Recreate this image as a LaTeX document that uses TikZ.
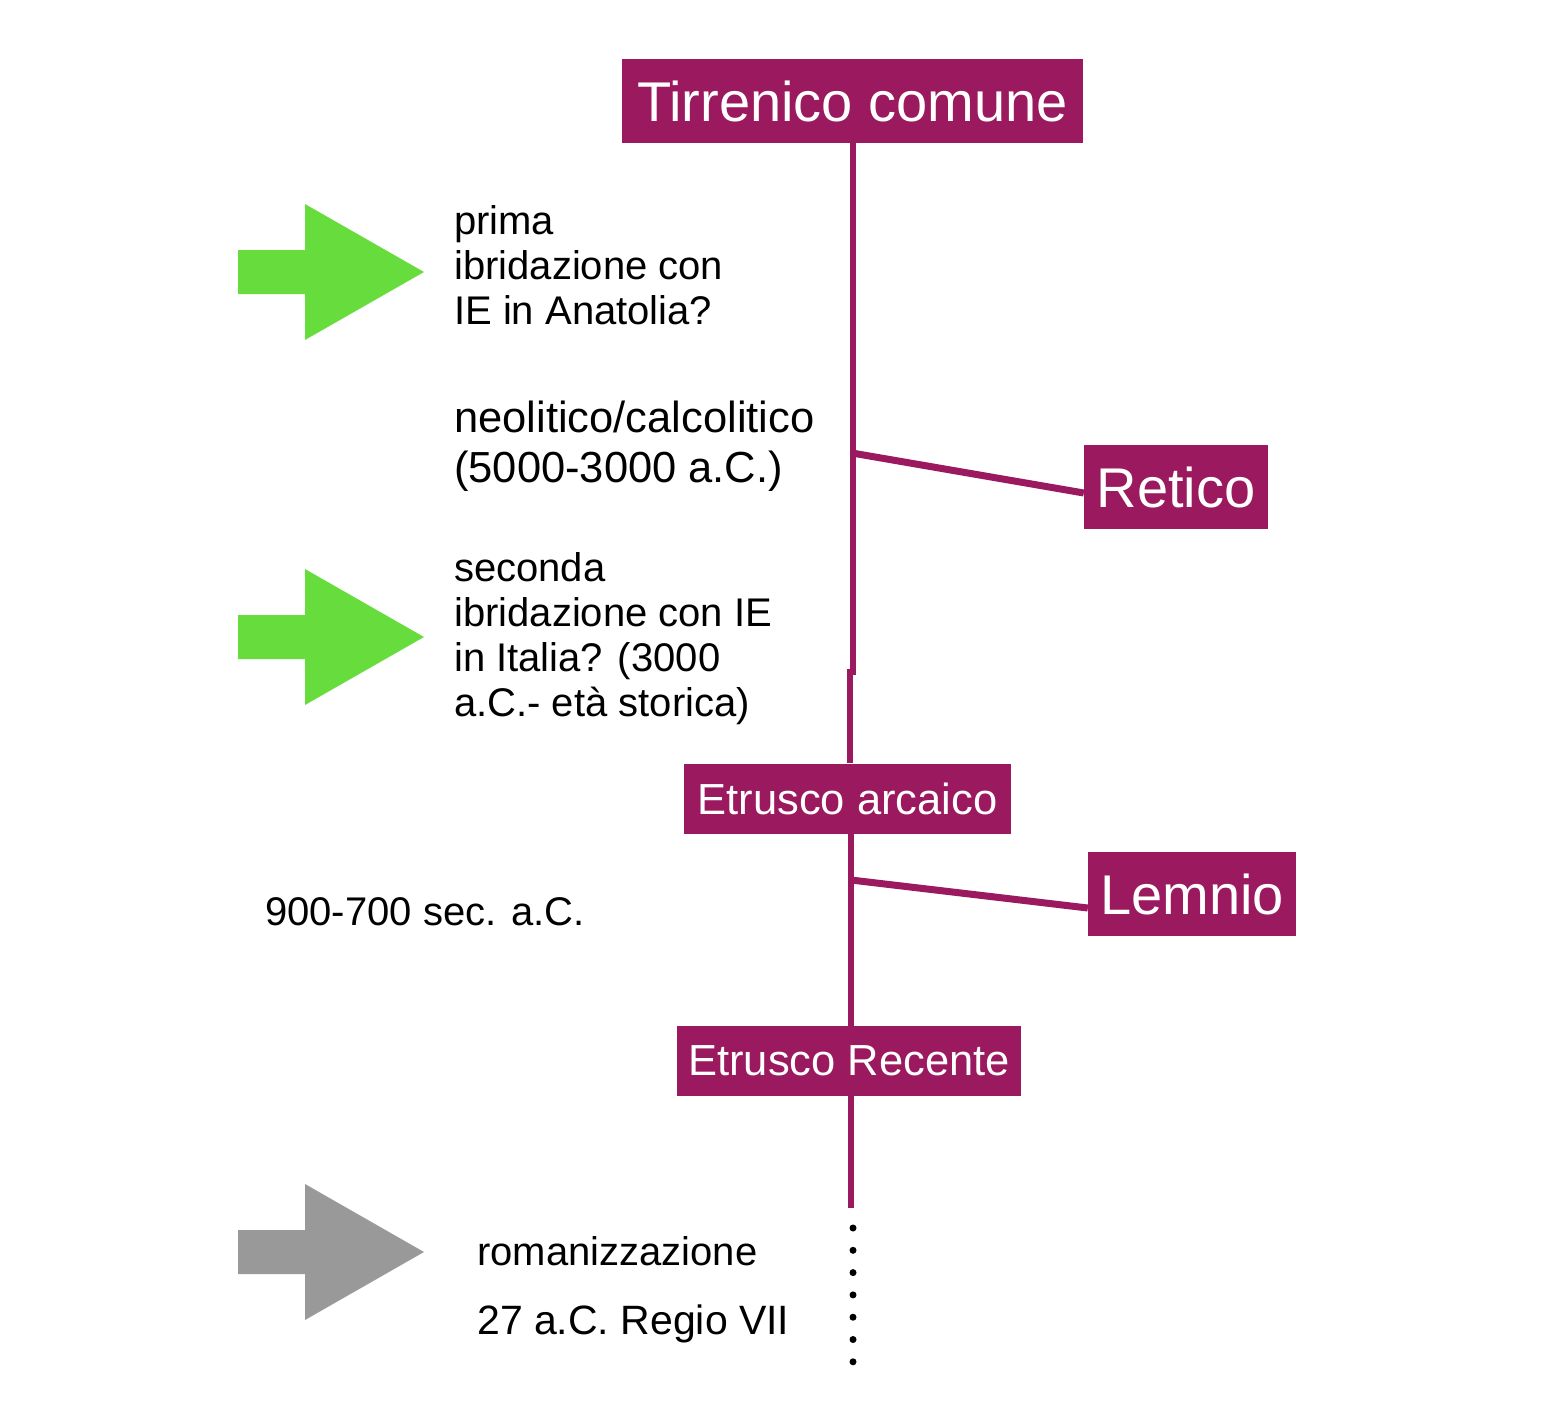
\documentclass[tikz,border=0pt]{standalone}
\usepackage{xcolor}
\usepackage{fontspec}
\setmainfont{Liberation Sans}
\usepackage{tikz}
\definecolor{tyrrh}{RGB}{155,25,94}
\definecolor{hybrid}{RGB}{102,221,60}
\definecolor{roman}{RGB}{153,153,153}

\begin{document}
\begin{tikzpicture}[x=1pt,y=-1pt,
    lang node/.style={fill=tyrrh,text=white,inner sep=0pt,minimum height=84pt,font=\fontsize{56}{60}\selectfont},
    phase node/.style={fill=tyrrh,text=white,inner sep=0pt,minimum height=70pt,font=\fontsize{43.5}{48}\selectfont},
    note/.style={anchor=west,align=left,inner sep=0pt,font=\fontsize{40}{45}\selectfont},
    stem/.style={draw=tyrrh,line width=6pt}]
    \useasboundingbox (0,0) rectangle (1560,1403);

    \node[lang node,minimum width=461pt] (tirr) at (852.5,101) {Tirrenico comune};
    \node[lang node,minimum width=184pt] (ret) at (1176,487) {Retico};
    \node[phase node,minimum width=327pt] (arc) at (847.5,798.5) {Etrusco arcaico};
    \node[lang node,minimum width=208pt] (lem) at (1192,894) {Lemnio};
    \node[phase node,minimum width=344pt] (rec) at (849,1061) {Etrusco Recente};

    \coordinate (jog) at (852,672);
    \coordinate (fork1) at (852,453);
    \coordinate (fork2) at (851,880);
    \coordinate (tail) at (851,1208);

    \draw[stem] (tirr.south) -- (tirr.south |- jog) -| ([xshift=2pt]arc.north);
    \draw[stem] (arc.south -| tail) -- (rec.north -| tail);
    \draw[stem] (rec.south -| tail) -- (tail);
    \draw[stem,line width=7pt] (fork1) -- ([yshift=-6pt]ret.west);
    \draw[stem,line width=7pt] (fork2) -- ([yshift=-14pt]lem.west);
    \foreach \k in {0,...,6}
        \fill (853,{1228+22.3*\k}) circle (3.5pt);

    % arrows on the left
    \foreach \y/\c in {272/hybrid,637/hybrid,1252/roman}
        \fill[\c] (238,\y-22) -- (305,\y-22) -- (305,\y-68) -- (424,\y)
            -- (305,\y+68) -- (305,\y+22) -- (238,\y+22) -- cycle;

    \node[note] (hyb1) at (454,265) {prima\\ibridazione con\\IE in Anatolia?};
    \node[note,font=\fontsize{43.5}{50}\selectfont] (neo) at (454,446) {neolitico/calcolitico\\(5000-3000 a.C.)};
    \node[note] (hyb2) at (454,639) {seconda\\ibridazione con IE\\in Italia? (3000\\a.C.- età storica)};
    \node[note] (date) at (265,912) {900-700 sec. a.C.};
    \node[note] (rom) at (477,1251) {romanizzazione};
    \node[note,font=\fontsize{41}{46}\selectfont] (regio) at (477,1324) {27 a.C. Regio VII};
\end{tikzpicture}
\end{document}
